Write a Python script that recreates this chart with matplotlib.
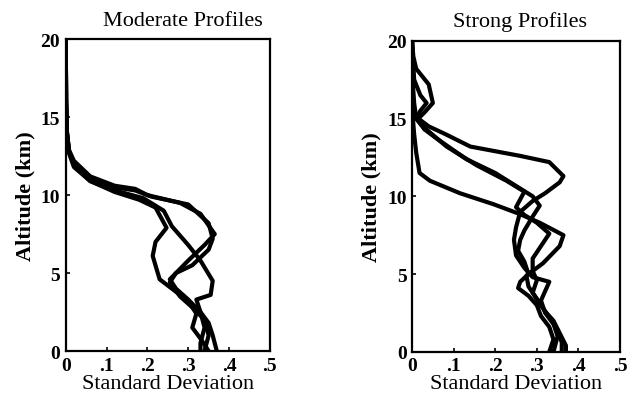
import numpy as np
import matplotlib.pyplot as plt

# Moderate profiles: (standard deviation, altitude km)
mod_x1 = [0, 0.001, 0.003, 0.008, 0.02, 0.06, 0.12, 0.17, 0.20, 0.28, 0.33, 0.365, 0.34, 0.30, 0.255, 0.27, 0.30, 0.33, 0.34, 0.33, 0.33]
mod_y1 = [20, 16, 14, 12.9, 12.2, 11.2, 10.6, 10.4, 10.0, 9.5, 8.8, 7.5, 6.8, 5.8, 4.6, 4.0, 3.3, 2.5, 1.5, 0.5, 0]
mod_x2 = [0, 0.001, 0.003, 0.008, 0.02, 0.06, 0.12, 0.18, 0.22, 0.247, 0.22, 0.213, 0.23, 0.27, 0.30, 0.32, 0.31, 0.33, 0.35]
mod_y2 = [20, 16, 14, 12.7, 11.8, 10.9, 10.2, 9.7, 9.2, 7.9, 7.0, 6.1, 4.6, 3.8, 3.2, 2.4, 1.5, 0.8, 0]
mod_x3 = [0, 0.001, 0.003, 0.008, 0.02, 0.06, 0.12, 0.19, 0.24, 0.26, 0.30, 0.33, 0.36, 0.355, 0.32, 0.33, 0.35, 0.36, 0.37]
mod_y3 = [20, 16, 14, 12.8, 11.9, 10.9, 10.3, 9.8, 9.0, 8.0, 6.8, 5.8, 4.5, 3.6, 3.3, 2.5, 1.8, 1.0, 0]
mod_x4 = [0, 0.001, 0.003, 0.008, 0.02, 0.06, 0.12, 0.17, 0.21, 0.30, 0.35, 0.36, 0.35, 0.31, 0.27, 0.255, 0.28, 0.31, 0.34, 0.35, 0.34]
mod_y4 = [20, 16, 14, 12.8, 12.0, 11.0, 10.5, 10.3, 9.9, 9.4, 8.2, 7.2, 6.5, 5.5, 5.0, 4.4, 3.5, 2.8, 2.0, 1.0, 0]

# Strong profiles
str_x1 = [0, 0.003, 0.01, 0.04, 0.05, 0.03, 0.015, 0.04, 0.08, 0.14, 0.26, 0.33, 0.364, 0.355, 0.32, 0.29, 0.26, 0.25, 0.245, 0.25, 0.27, 0.29, 0.33, 0.32, 0.31, 0.32, 0.34, 0.35, 0.34]
str_y1 = [20, 19, 18.2, 17.2, 16, 15.4, 15, 14.5, 14.0, 13.2, 12.6, 12.2, 11.3, 10.9, 10.2, 9.7, 9.0, 8.0, 7.2, 6.2, 5.4, 4.8, 4.5, 3.9, 3.3, 2.5, 1.8, 1.0, 0]
str_x2 = [0, 0.002, 0.005, 0.02, 0.035, 0.02, 0.01, 0.03, 0.06, 0.13, 0.20, 0.26, 0.29, 0.307, 0.29, 0.27, 0.26, 0.255, 0.27, 0.28, 0.26, 0.255, 0.28, 0.30, 0.31, 0.33, 0.34, 0.33]
str_y2 = [20, 19, 17.5, 16.5, 16, 15.5, 15, 14.3, 13.7, 12.4, 11.5, 10.5, 10.0, 9.4, 8.7, 7.8, 7.2, 6.5, 5.8, 5.0, 4.5, 4.1, 3.6, 3.0, 2.3, 1.6, 0.8, 0]
str_x3 = [0, 0, 0.005, 0.01, 0.03, 0.083, 0.155, 0.227, 0.27, 0.26, 0.25, 0.27, 0.30, 0.33, 0.31, 0.29, 0.29, 0.30, 0.29, 0.31, 0.33, 0.35, 0.36, 0.36]
str_y3 = [20, 18, 16, 15, 14.4, 13.2, 12, 11, 10.3, 9.8, 9.3, 8.8, 8.3, 7.6, 6.8, 6.0, 5.2, 4.6, 3.8, 3.0, 2.2, 1.4, 0.6, 0]
str_x4 = [0, 0, 0.002, 0.005, 0.01, 0.018, 0.043, 0.115, 0.195, 0.26, 0.307, 0.364, 0.355, 0.315, 0.275, 0.28, 0.30, 0.32, 0.34, 0.355, 0.37, 0.37]
str_y4 = [20, 17, 15, 14, 12.8, 11.5, 11, 10.2, 9.5, 8.85, 8.3, 7.5, 6.8, 5.7, 4.9, 4.2, 3.4, 2.6, 2.0, 1.2, 0.4, 0]

xticks = [0, 0.1, 0.2, 0.3, 0.4, 0.5]
xticklabels = ['0', '.1', '.2', '.3', '.4', '.5']
yticks = [0, 5, 10, 15, 20]

plt.rcParams['font.family'] = ['Liberation Serif', 'DejaVu Serif']

fig = plt.figure(figsize=(6.32, 4.06), dpi=100)
ax1 = fig.add_axes([0.104, 0.133, 0.323, 0.768])
ax2 = fig.add_axes([0.652, 0.131, 0.329, 0.766])

panels = [
    (ax1, [(mod_x1, mod_y1), (mod_x2, mod_y2), (mod_x3, mod_y3), (mod_x4, mod_y4)], 'Moderate Profiles', 0.574),
    (ax2, [(str_x1, str_y1), (str_x2, str_y2), (str_x3, str_y3), (str_x4, str_y4)], 'Strong Profiles', 0.52),
]

for ax, curves, title, tx in panels:
    for xs, ys in curves:
        ax.plot(xs, ys, color='black', linewidth=3.0, solid_joinstyle='round', solid_capstyle='round')
    ax.set_xlim(0, 0.5)
    ax.set_ylim(0, 20)
    ax.set_xticks(xticks)
    ax.set_xticklabels(xticklabels)
    ax.set_yticks(yticks)
    ax.tick_params(direction='in', length=3, width=1.2, labelsize=14, pad=4)
    for lab in ax.get_xticklabels() + ax.get_yticklabels():
        lab.set_fontweight('bold')
    for sp in ax.spines.values():
        sp.set_linewidth(1.6)
    ax.set_xlabel('Standard Deviation', fontsize=16, labelpad=0)
    ax.set_ylabel('Altitude (km)', fontsize=16, fontweight='bold', labelpad=4)
    ax.text(tx, 1.03, title, transform=ax.transAxes, ha='center', va='bottom', fontsize=16)

fig.savefig('out.png', dpi=100)
